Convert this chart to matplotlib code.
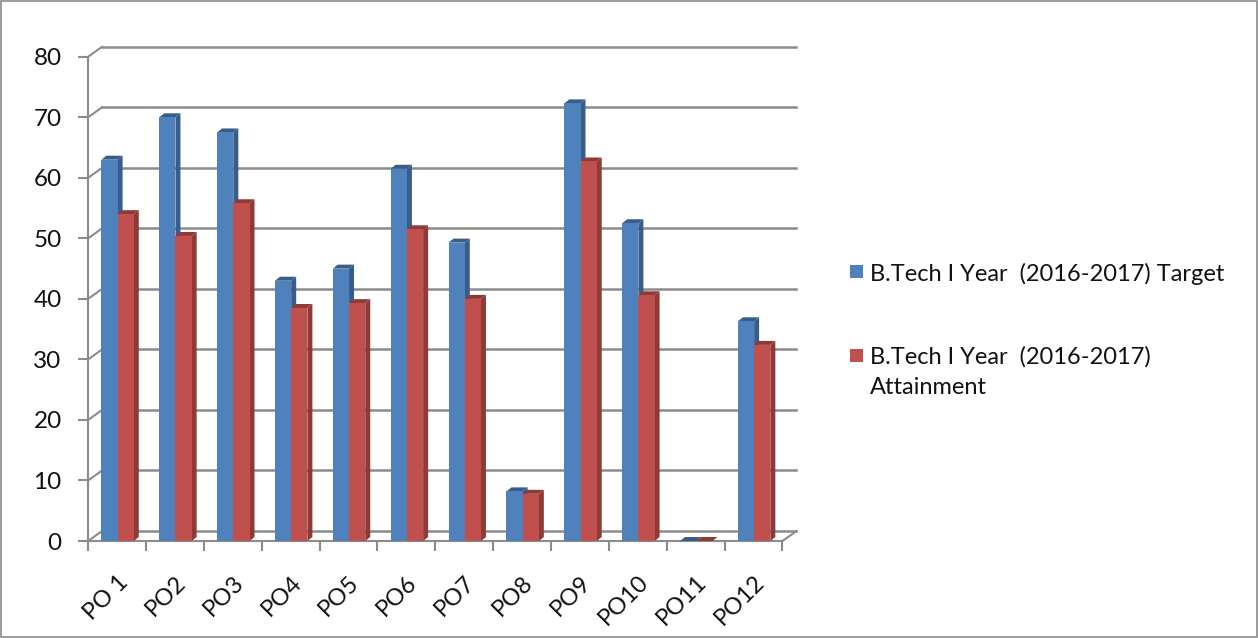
import matplotlib
matplotlib.use("Agg")
import matplotlib.pyplot as plt
from matplotlib.patches import Rectangle, Polygon
import matplotlib.transforms as mtransforms
import numpy as np

plt.rcParams['font.family'] = ['Lato', 'DejaVu Sans']

# data
categories = ['PO 1', 'PO2', 'PO3', 'PO4', 'PO5', 'PO6', 'PO7', 'PO8', 'PO9', 'PO10', 'PO11', 'PO12']
target = [63, 70, 67.5, 43, 45, 61.5, 49.3, 8.2, 72.3, 52.5, 0, 36.3]
attainment = [54, 50.4, 55.8, 38.5, 39.3, 51.5, 40, 7.8, 62.7, 40.6, 0, 32.4]
labels = ['B.Tech I Year  (2016-2017) Target', 'B.Tech I Year  (2016-2017)\nAttainment']
yticks = list(range(0, 81, 10))

front_colors = ['#4F81BD', '#C0504D']
side_colors = ['#385D8A', '#8E3B38']
grid_color = '#8C8C8C'
text_color = '#111111'

W, H = 1258, 638
fig = plt.figure(figsize=(W / 100, H / 100), dpi=100)
ax = fig.add_axes([0.070, 0.152, 0.552, 0.759])
ax.set_xlim(-0.5, len(categories) - 0.5)
ax.set_ylim(0, 80)

# pixel -> data conversion for the fake 3D depth
pos = ax.get_position()
px_x = pos.width * W / len(categories)
px_y = pos.height * H / 80
ox, oy = 14 / px_x, 10 / px_y      # back wall offset
sx, sy = 5 / px_x, 4 / px_y        # bar depth

x = np.arange(len(categories))
x0, x1 = -0.5, len(categories) - 0.5

# back wall gridlines + left stubs
for v in yticks:
    ax.plot([x0 + ox, x1 + ox], [v + oy, v + oy], color=grid_color, lw=1.8, zorder=0, clip_on=False)
    ax.plot([x0, x0 + ox], [v, v + oy], color=grid_color, lw=1.5, zorder=0, clip_on=False)
# floor
ax.plot([x0, x1], [0, 0], color=grid_color, lw=1.5, zorder=0.5, clip_on=False)
ax.plot([x1, x1 + ox], [0, oy], color=grid_color, lw=1.5, zorder=0.5, clip_on=False)

# bars with side and top faces
w = 0.28
for k, (vals, dx) in enumerate([(target, -0.13), (attainment, 0.15)]):
    z = 2 + k
    ax.bar(x + dx, vals, width=w, color=front_colors[k], zorder=z + 0.1, linewidth=0)
    for xi, v in zip(x + dx, vals):
        l, r = xi - w / 2, xi + w / 2
        ax.add_patch(Polygon([(r, 0), (r + sx, sy), (r + sx, v + sy), (r, v)],
                             closed=True, fc=side_colors[k], ec='none', zorder=z, clip_on=False))
        ax.add_patch(Polygon([(l, v), (l + sx, v + sy), (r + sx, v + sy), (r, v)],
                             closed=True, fc=side_colors[k], ec='none', zorder=z, clip_on=False))

# axes styling
for s in ['top', 'right', 'bottom']:
    ax.spines[s].set_visible(False)
ax.spines['left'].set_color(grid_color)
ax.spines['left'].set_linewidth(1.5)
ax.set_yticks(yticks)
ax.tick_params(axis='y', length=7, width=1.5, color=grid_color, labelsize=17.5, pad=12, labelcolor=text_color)

ax.set_xticks(x)
ax.set_xticklabels(categories, rotation=45, ha='right', rotation_mode='anchor', fontsize=17, color=text_color)
shift = mtransforms.ScaledTranslation(-0.04, 0, fig.dpi_scale_trans)
for t in ax.get_xticklabels():
    t.set_transform(t.get_transform() + shift)
ax.set_xticks(np.arange(-0.5, len(categories)), minor=True)
ax.tick_params(axis='x', which='major', length=0, pad=22)
ax.tick_params(axis='x', which='minor', length=7, width=1.5, color=grid_color)
ax.patch.set_visible(False)

# legend (drawn by hand so the square sits on the first text line)
square_y = [272, 355]
last_line_y = [272, 385]
for c, lab, ys, yl in zip(front_colors, labels, square_y, last_line_y):
    fig.add_artist(Rectangle((850 / W, 1 - (ys + 6.5) / H), 13 / W, 13 / H,
                             transform=fig.transFigure, fc=c, ec='none'))
    fig.text(870 / W, 1 - (yl + 8.5) / H, lab, fontsize=17, color=text_color,
             va='baseline', ha='left', linespacing=1.5)

# chart border
fig.add_artist(Rectangle((0.0008, 0.0016), 0.9984, 0.9968, transform=fig.transFigure,
                         fill=False, ec='#8A8A8A', lw=1.2))

fig.savefig('out.png', dpi=100)
